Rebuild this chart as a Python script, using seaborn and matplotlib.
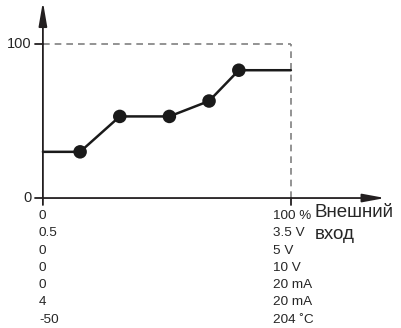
import matplotlib
matplotlib.use("Agg")
import matplotlib.pyplot as plt
import seaborn as sns
import pandas as pd

# curve: external input (%) -> output (%)
input_pct = [0, 15, 31, 51, 67, 79, 100]
output_pct = [30, 30, 53, 53, 63, 83, 83]
knots = [1, 2, 3, 4, 5]  # points that get a dot

low_labels = ["0", "0.5", "0", "0", "0", "4", "-50"]
high_labels = ["100 %", "3.5 V", "5 V", "10 V", "20 mA", "20 mA", "204 \u02daC"]
axis_title = ["Внешний", "вход"]

sns.set_style("white")
plt.rcParams["font.family"] = ["Liberation Sans", "DejaVu Sans"]

df = pd.DataFrame({"x": input_pct, "y": output_pct})
dots = df.iloc[knots]

fig = plt.figure(figsize=(4.01, 3.28), dpi=100)
ax = fig.add_axes([0, 0, 1, 1])
ax.set_xlim(-17.3, 144.4)
ax.set_ylim(-84.4, 128.6)
ax.axis("off")

axis_col = "#231f20"
dash_col = "#808080"
txt_col = "#262626"

# dashed frame at 100/100
ax.plot([0, 100], [100, 100], color=dash_col, lw=1.2, ls=(0, (4, 3)))
ax.plot([100, 100], [0, 100], color=dash_col, lw=1.2, ls=(0, (4, 3)))

# axes with arrows
ax.annotate("", xy=(138, 0), xytext=(0, 0),
            arrowprops=dict(arrowstyle="-|>,head_length=1.35,head_width=0.25",
                            color=axis_col, lw=1.3, shrinkA=0, shrinkB=0))
ax.annotate("", xy=(0, 127.5), xytext=(0, -4.5),
            arrowprops=dict(arrowstyle="-|>,head_length=1.45,head_width=0.25",
                            color=axis_col, lw=1.3, shrinkA=0, shrinkB=0))
ax.plot([-3, 0], [0, 0], color=axis_col, lw=1.3)
ax.plot([-3, 0], [100, 100], color=axis_col, lw=1.3)
ax.plot([100, 100], [0, -4.5], color=axis_col, lw=1.3)

sns.lineplot(data=df, x="x", y="y", ax=ax, color="#1a1a1a", lw=1.8)
sns.scatterplot(data=dots, x="x", y="y", ax=ax, color="#1a1a1a", s=95,
                edgecolor="none", zorder=5)

ax.text(-4.5, 100, "100", ha="right", va="center", fontsize=10.5, color=txt_col)
ax.text(-4.5, 0, "0", ha="right", va="center", fontsize=10.5, color=txt_col)

for i, (lo, hi) in enumerate(zip(low_labels, high_labels)):
    yy = -11.7 - 11.2 * i
    ax.text(-1.6, yy, lo, ha="left", va="center", fontsize=9.7, color=txt_col)
    ax.text(92.7, yy, hi, ha="left", va="center", fontsize=9.7, color=txt_col)

ax.text(109.5, -9.5, axis_title[0], ha="left", va="center", fontsize=13.5, color=txt_col)
ax.text(109.5, -24.0, axis_title[1], ha="left", va="center", fontsize=13.5, color=txt_col)

fig.savefig("out.png", dpi=100)
